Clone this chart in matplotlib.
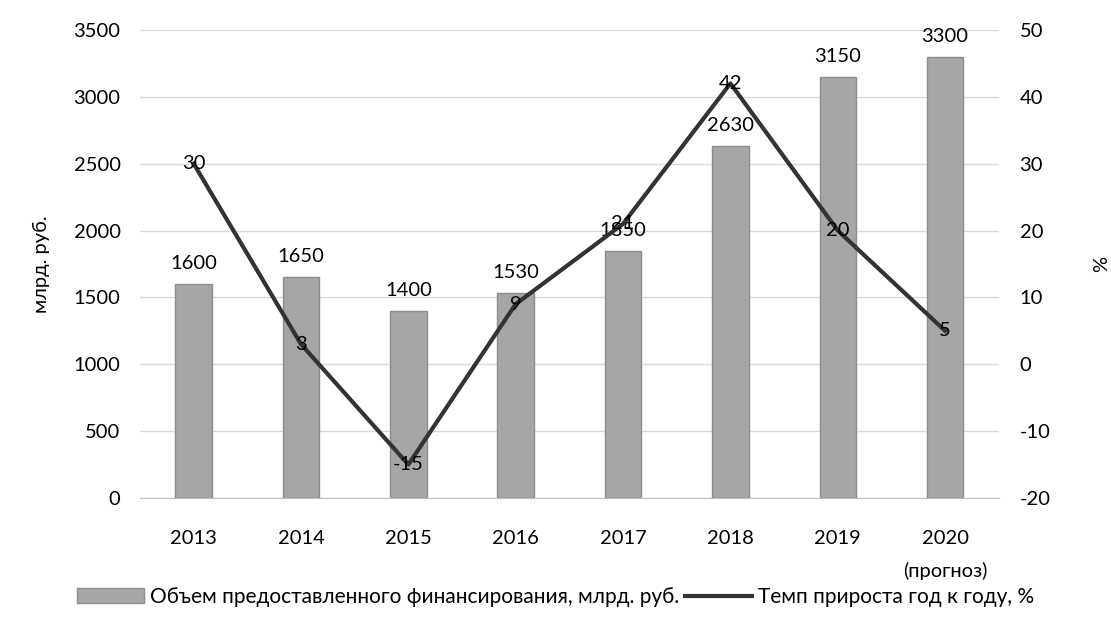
import matplotlib.pyplot as plt
import numpy as np

plt.rcParams['font.family'] = ['Lato', 'DejaVu Sans']
plt.rcParams['axes.unicode_minus'] = False

years = ["2013", "2014", "2015", "2016", "2017", "2018", "2019", "2020\n(прогноз)"]
volume = [1600, 1650, 1400, 1530, 1850, 2630, 3150, 3300]
growth = [30, 3, -15, 9, 21, 42, 20, 5]

bar_label = "Объем предоставленного финансирования, млрд. руб."
line_label = "Темп прироста год к году, %"

fs = 14.5

fig = plt.figure(figsize=(11.11, 6.24), dpi=100)
ax = fig.add_axes([0.126, 0.202, 0.773, 0.750])
ax2 = ax.twinx()

x = np.arange(len(years))
bars = ax.bar(x, volume, width=0.34, color="#a6a6a6", edgecolor="#8c8c8c",
              linewidth=1, label=bar_label, zorder=2)
ax.set_ylim(0, 3500)
ax.set_yticks(range(0, 3501, 500))
ax.set_xlim(-0.5, len(years) - 0.5)
ax.set_xticks(x)
ax.set_xticklabels(years, linespacing=2.0)
ax.grid(axis="y", color="#d9d9d9", linewidth=1, zorder=0)
ax.set_axisbelow(True)
for s in ["top", "left", "right"]:
    ax.spines[s].set_visible(False)
ax.spines["bottom"].set_color("#bfbfbf")
ax.tick_params(axis="y", length=0, labelsize=fs, pad=14)
ax.tick_params(axis="x", length=0, labelsize=fs, pad=23)
ax.set_ylabel("млрд. руб.", fontsize=fs)
ax.yaxis.set_label_coords(-0.105, 0.5)

for xi, v in zip(x, volume):
    ax.text(xi, v + 90, str(v), ha="center", va="bottom", fontsize=fs)

line, = ax2.plot(x, growth, color="#333333", linewidth=3, label=line_label, zorder=3)
ax2.set_ylim(-20, 50)
ax2.set_yticks(range(-20, 51, 10))
for s in ["top", "left", "right", "bottom"]:
    ax2.spines[s].set_visible(False)
ax2.tick_params(length=0, labelsize=fs, pad=15)
ax2.set_ylabel("%", fontsize=fs, rotation=90)
ax2.yaxis.set_label_coords(1.11, 0.5)

for xi, g in zip(x, growth):
    ax2.text(xi, g, str(g), ha="center", va="center", fontsize=fs, zorder=4)

fig.legend([bars, line], [bar_label, line_label], loc="center",
           bbox_to_anchor=(0.5, 1 - 597 / 624), ncol=2, frameon=False,
           fontsize=15, handlelength=3.2, columnspacing=0.3, handletextpad=0.3)

fig.savefig("out.png", dpi=100)
